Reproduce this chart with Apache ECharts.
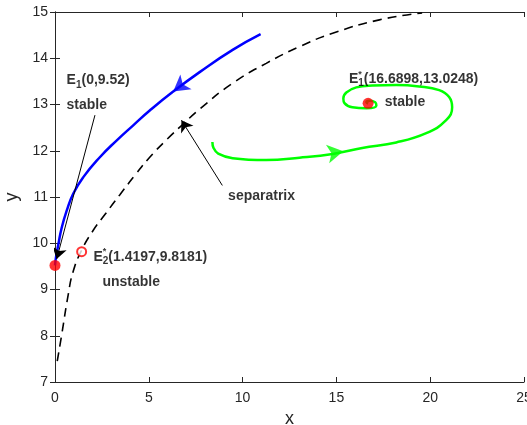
<!DOCTYPE html>
<html>
<head>
<meta charset="utf-8">
<script src="https://cdn.jsdelivr.net/npm/echarts@6/dist/echarts.min.js"></script>
<style>
  html, body { margin: 0; padding: 0; background: #fff; }
  #main { width: 527px; height: 425px; }
</style>
</head>
<body>
<div id="main"></div>
<script>
// trajectory going to E1 (blue)
const blueTraj = [
  [10.96, 14.52], [9.47, 14.18], [7.71, 13.70], [6.3, 13.28], [5.05, 12.87],
  [4.17, 12.55], [3.28, 12.22], [2.39, 11.86], [1.51, 11.43], [0.97, 11.07],
  [0.62, 10.70], [0.36, 10.34], [0.18, 9.98], [0.05, 9.69], [0, 9.52]
]
// trajectory spiralling into E1* (green)
const greenTraj = [
  [8.39, 12.19], [8.45, 12.06], [8.7, 11.94], [9.47, 11.84], [11.26, 11.80],
  [13.03, 11.85], [14.8, 11.93], [16.38, 12.06], [18.19, 12.18], [19.79, 12.38],
  [20.85, 12.66], [21.17, 12.94], [21.01, 13.16], [20.48, 13.31], [19.41, 13.39],
  [18.19, 13.42], [16.91, 13.41], [16.06, 13.37], [15.53, 13.26], [15.37, 13.13],
  [15.43, 13.03], [15.85, 12.94], [16.6, 12.92], [17.13, 12.98], [17.07, 13.05],
  [16.76, 13.08], [16.6, 13.05], [16.69, 13.02]
]
// separatrix (dashed)
const separatrix = [
  [0.12, 7.45], [0.36, 8.03], [0.71, 8.90], [0.96, 9.38], [1.42, 9.85],
  [2.04, 10.28], [2.66, 10.62], [3.46, 11.05], [4.26, 11.47], [5.05, 11.86],
  [6.0, 12.26], [6.76, 12.55], [7.71, 12.90], [9.47, 13.46], [11.26, 13.89],
  [13.03, 14.25], [14.8, 14.54], [17.29, 14.83], [19.57, 14.98]
]
// equilibria
const stablePts = [[0, 9.52], [16.6898, 13.0248]]
const unstablePts = [[1.4197, 9.8181]]
// direction arrows on trajectories: [x, y, rotate]
const flowArrows = [[6.3, 13.28, 127], [15.37, 11.99, -80]]
// annotation arrows: [from, to]
const pointers = [
  [[2.13, 12.77], [0.09, 9.66]],
  [[8.92, 11.25], [6.74, 12.66]]
]
// text labels: [x, y, text]
const textLabels = [
  [0.59, 13.52, '{b|E}{sub|1}{b|(0,9.52)}'],
  [0.59, 12.98, '{b|stable}'],
  [15.64, 13.55, '{b|E}{sup|*}{sub|1}{b|(16.6898,13.0248)}'],
  [17.55, 13.05, '{b|stable}'],
  [2.02, 9.71, '{b|E}{sup|*}{sub|2}{b|(1.4197,9.8181)}'],
  [2.5, 9.16, '{b|unstable}'],
  [9.2, 11.01, '{b|separatrix}']
]

const FONT = 'Liberation Sans, Arial, Helvetica, sans-serif'
const AXIS_COLOR = '#262626'

const chart = echarts.init(document.getElementById('main'))

const baseAxis = {
  axisLine: { show: true, lineStyle: { color: AXIS_COLOR, width: 1 } },
  axisTick: { show: true, inside: true, length: 5, lineStyle: { color: AXIS_COLOR } },
  splitLine: { show: false }
}

const option = {
  animation: false,
  backgroundColor: '#fff',
  grid: { left: 55, right: 3, top: 12, bottom: 43, outerBoundsMode: 'none', containLabel: false },
  xAxis: [
    Object.assign({}, baseAxis, {
      type: 'value', min: 0, max: 25, interval: 5, position: 'bottom',
      name: 'x', nameLocation: 'middle', nameGap: 20,
      nameTextStyle: { fontFamily: FONT, fontSize: 18, color: AXIS_COLOR },
      axisLabel: { fontFamily: FONT, fontSize: 14, color: AXIS_COLOR, margin: 9 }
    }),
    Object.assign({}, baseAxis, {
      type: 'value', min: 0, max: 25, interval: 5, position: 'top',
      axisLabel: { show: false }
    })
  ],
  yAxis: [
    Object.assign({}, baseAxis, {
      type: 'value', min: 7, max: 15, interval: 1, position: 'left',
      name: 'y', nameLocation: 'middle', nameGap: 27, nameRotate: 90,
      nameTextStyle: { fontFamily: FONT, fontSize: 18, color: AXIS_COLOR },
      axisLabel: { fontFamily: FONT, fontSize: 14, color: AXIS_COLOR, margin: 7 }
    }),
    Object.assign({}, baseAxis, {
      type: 'value', min: 7, max: 15, interval: 1, position: 'right',
      axisLabel: { show: false }
    })
  ],
  series: [
    {
      type: 'line', data: separatrix, smooth: 0.5, symbol: 'none',
      lineStyle: { color: '#000', width: 1.6, type: [9, 6] }
    },
    {
      type: 'line', data: blueTraj, smooth: 0.5, symbol: 'none',
      lineStyle: { color: '#0000ff', width: 2.5 }
    },
    {
      type: 'line', data: greenTraj, smooth: 0.45, symbol: 'none',
      lineStyle: { color: '#00ff00', width: 2.5 }
    },
    {
      type: 'scatter',
      data: flowArrows.map((a, i) => ({
        value: [a[0], a[1]],
        symbolRotate: a[2],
        itemStyle: { color: i === 0 ? '#0000ff' : '#00ff00' }
      })),
      symbol: 'arrow', symbolSize: [14, 16], z: 5
    },
    {
      type: 'lines', coordinateSystem: 'cartesian2d',
      data: pointers.map(p => ({ coords: p })),
      symbol: ['none', 'arrow'], symbolSize: 11,
      lineStyle: { color: '#000', width: 1, opacity: 1 },
      z: 6
    },
    {
      type: 'scatter', data: stablePts, symbol: 'circle', symbolSize: 11,
      itemStyle: { color: '#ff0000' }, z: 7
    },
    {
      type: 'scatter', data: unstablePts, symbol: 'circle', symbolSize: 9,
      itemStyle: { color: '#fff', borderColor: '#ff0000', borderWidth: 2 }, z: 7
    },
    {
      type: 'scatter', symbolSize: 1, itemStyle: { color: 'rgba(0,0,0,0)' },
      silent: true, z: 8,
      data: textLabels.map(t => ({ value: [t[0], t[1]], label: { formatter: t[2] } })),
      label: {
        show: true, position: 'right', distance: 0,
        rich: {
          b: { fontFamily: FONT, fontWeight: 'bold', fontSize: 14, color: '#000', lineHeight: 16 },
          sub: { fontFamily: FONT, fontWeight: 'bold', fontSize: 10, color: '#000', lineHeight: 11, padding: [9, 0, 0, 0] },
          sup: { fontFamily: FONT, fontWeight: 'bold', fontSize: 9, color: '#000', lineHeight: 10, padding: [0, 0, 10, 0], width: 0.01 }
        }
      }
    }
  ]
}

chart.setOption(option)
</script>
</body>
</html>
